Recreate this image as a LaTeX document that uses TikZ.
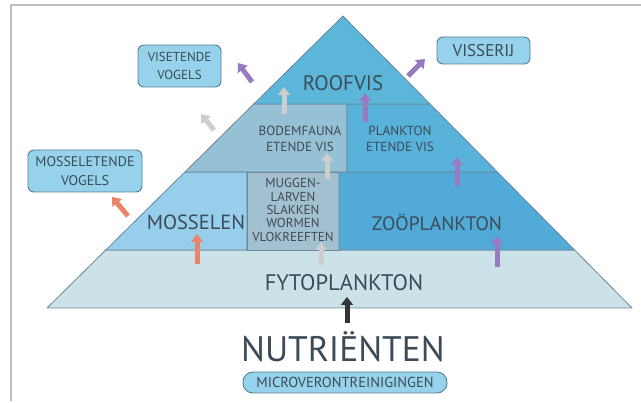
\documentclass[tikz,border=0pt]{standalone}
\usepackage{fontspec}
\setmainfont{PT Sans}
\usetikzlibrary{arrows.meta}
\definecolor{cRoof}{RGB}{92,182,218}
\definecolor{cBodem}{RGB}{150,192,212}
\definecolor{cPlank}{RGB}{88,178,218}
\definecolor{cMossel}{RGB}{150,206,236}
\definecolor{cMuggen}{RGB}{162,192,208}
\definecolor{cZoo}{RGB}{82,170,216}
\definecolor{cFyto}{RGB}{202,226,232}
\definecolor{cEdge}{RGB}{105,135,155}
\definecolor{cText}{RGB}{60,75,88}
\definecolor{cBox}{RGB}{150,210,236}
\definecolor{cBoxEdge}{RGB}{85,125,145}
\definecolor{cPurple}{RGB}{152,122,192}
\definecolor{cOrange}{RGB}{232,132,106}
\definecolor{cGray}{RGB}{205,205,205}
\definecolor{cDark}{RGB}{50,52,55}
\definecolor{cFrame}{RGB}{190,190,190}
\tikzset{
  region/.style={draw=cEdge, line width=0.8pt, line join=round},
  lbl/.style={text=cText, align=center, inner sep=0pt},
  boxn/.style={draw=cBoxEdge, fill=cBox, line width=0.9pt, rounded corners=6pt, text=cText, align=center, inner sep=0pt},
  arr/.style={line width=5pt, -{Triangle[length=8pt,width=12pt]}},
}
\begin{document}
\begin{tikzpicture}[x=1pt,y=-1pt]
\useasboundingbox (0,0) rectangle (641,403);
% frame
\draw[cFrame, line width=1.5pt] (11,401) -- (11,5) -- (641,5);
% regions
\draw[region, fill=cFyto] (47,308) -- (105.8,250) -- (574.6,250) -- (632,308) -- cycle;
\draw[region, fill=cMossel] (105.8,250) -- (184.9,172) -- (247,172) -- (247,250) -- cycle;
\draw[region, fill=cMuggen] (247,172) -- (339,172) -- (339,250) -- (247,250) -- cycle;
\draw[region, fill=cZoo] (339,172) -- (497.4,172) -- (574.6,250) -- (339,250) -- cycle;
\draw[region, fill=cBodem] (184.9,172) -- (253.8,104) -- (347,104) -- (347,172) -- cycle;
\draw[region, fill=cPlank] (347,104) -- (430.1,104) -- (497.4,172) -- (347,172) -- cycle;
\draw[region, fill=cRoof] (343,16) -- (430.1,104) -- (253.8,104) -- cycle;
% labels
\node[lbl, font=\fontsize{21}{23}\selectfont] (roof) at (343,83) {ROOFVIS};
\node[lbl, font=\fontsize{13.2}{16}\selectfont] (bodem) at (300,139) {BODEMFAUNA\\ETENDE VIS};
\node[lbl, font=\fontsize{13.2}{16}\selectfont] (plank) at (400,139) {PLANKTON\\ETENDE VIS};
\node[lbl, font=\fontsize{13}{13.3}\selectfont] (mug) at (293,210) {MUGGEN-\\LARVEN\\SLAKKEN\\WORMEN\\VLOKREEFTEN};
\node[lbl, font=\fontsize{20.5}{22}\selectfont] (mossel) at (196,222) {MOSSELEN};
\node[lbl, font=\fontsize{19.5}{22}\selectfont] (zoo) at (437,222) {ZOÖPLANKTON};
\node[lbl, font=\fontsize{22.5}{24}\selectfont] (fyto) at (344,283) {FYTOPLANKTON};
\node[lbl, font=\fontsize{35.5}{38}\selectfont] (nutr) at (343,347) {NUTRIËNTEN};
% boxes
\node[boxn, minimum width=83pt, minimum height=42pt, font=\fontsize{13}{18}\selectfont] (vvog) at (179.5,66) {VISETENDE\\VOGELS};
\node[boxn, minimum width=93pt, minimum height=27pt, font=\fontsize{17}{19}\selectfont] (viss) at (483.5,50.5) {VISSERIJ};
\node[boxn, minimum width=114pt, minimum height=42pt, font=\fontsize{14}{19}\selectfont] (mvog) at (85,171) {MOSSELETENDE\\VOGELS};
\node[boxn, rounded corners=10pt, minimum width=204pt, minimum height=21pt, font=\fontsize{14.5}{16}\selectfont] (micro) at (345,382.5) {MICROVERONTREINIGINGEN};
% arrow end points
\coordinate (a1t) at (252,82);  \coordinate (a1h) at (238,63);
\coordinate (a2t) at (408,76);  \coordinate (a2h) at (425,59);
\coordinate (a3t) at (365,122); \coordinate (a3h) at (365,93);
\coordinate (a4t) at (284,114); \coordinate (a4h) at (284,87);
\coordinate (a5t) at (214,130); \coordinate (a5h) at (201,114);
\coordinate (a6t) at (457,186); \coordinate (a6h) at (457,157);
\coordinate (a7t) at (327,179); \coordinate (a7h) at (327,153);
\coordinate (a8t) at (128,216); \coordinate (a8h) at (112,197);
\coordinate (a9t) at (197,264); \coordinate (a9h) at (197,234);
\coordinate (a10t) at (321,265); \coordinate (a10h) at (321,242);
\coordinate (a11t) at (497,267); \coordinate (a11h) at (497,236);
\coordinate (a12t) at (347,323); \coordinate (a12h) at (347,297);
% arrows
\draw[arr, cPurple] (a1t) -- (a1h);
\draw[arr, cPurple] (a2t) -- (a2h);
\draw[arr, cPurple] (a3t) -- (a3h);
\draw[arr, cGray] (a4t) -- (a4h);
\draw[arr, cGray] (a5t) -- (a5h);
\draw[arr, cPurple] (a6t) -- (a6h);
\draw[arr, cGray] (a7t) -- (a7h);
\draw[arr, cOrange] (a8t) -- (a8h);
\draw[arr, cOrange] (a9t) -- (a9h);
\draw[arr, cGray] (a10t) -- (a10h);
\draw[arr, cPurple] (a11t) -- (a11h);
\draw[arr, cDark] (a12t) -- (a12h);
\end{tikzpicture}
\end{document}
